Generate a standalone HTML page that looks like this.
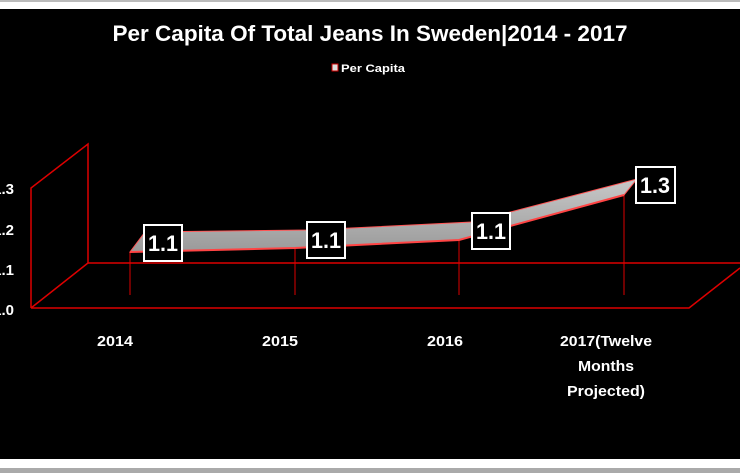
<!DOCTYPE html>
<html><head><meta charset="utf-8"><style>
html,body{margin:0;padding:0;background:#fff;}
body{width:740px;height:473px;overflow:hidden;position:relative;font-family:"Liberation Sans",sans-serif;}
</style></head><body>
<svg width="740" height="473" viewBox="0 0 740 473" style="position:absolute;left:0;top:0">
<defs><linearGradient id="g" x1="0" y1="0" x2="0" y2="1"><stop offset="0" stop-color="#c8c8c8"/><stop offset="1" stop-color="#9a9a9a"/></linearGradient></defs>
<rect x="0" y="0" width="740" height="2" fill="#bbb"/>
<rect x="0" y="9" width="740" height="450" fill="#000"/>
<rect x="0" y="468" width="740" height="5" fill="#aaa"/>
<g font-weight="bold" fill="#fff">
<text x="370" y="41" font-size="22" text-anchor="middle" textLength="515" lengthAdjust="spacingAndGlyphs">Per Capita Of Total Jeans In Sweden|2014 - 2017</text>
<rect x="332" y="64" width="6" height="7" fill="#ddd" stroke="#c00" stroke-width="1"/>
<text x="341" y="72" font-size="11" textLength="64" lengthAdjust="spacingAndGlyphs">Per Capita</text>
<g font-size="15">
<text x="14" y="194" text-anchor="end">1.3</text>
<text x="14" y="235" text-anchor="end">1.2</text>
<text x="14" y="275" text-anchor="end">1.1</text>
<text x="14" y="315" text-anchor="end">1.0</text>
</g>
<g font-size="15" text-anchor="middle">
<text x="115" y="346" textLength="36" lengthAdjust="spacingAndGlyphs">2014</text>
<text x="280" y="346" textLength="36" lengthAdjust="spacingAndGlyphs">2015</text>
<text x="445" y="346" textLength="36" lengthAdjust="spacingAndGlyphs">2016</text>
<text x="606" y="346" textLength="92" lengthAdjust="spacingAndGlyphs">2017(Twelve</text>
<text x="606" y="371" textLength="56" lengthAdjust="spacingAndGlyphs">Months</text>
<text x="606" y="396" textLength="78" lengthAdjust="spacingAndGlyphs">Projected)</text>
</g>
</g>
<g stroke="#d00" stroke-width="1.5" fill="none">
<polyline points="31,308 689,308 740,268"/>
<line x1="88" y1="263" x2="740" y2="263"/>
<polyline points="31,308 88,263 88,144 31,188 31,308"/>
</g>
<g stroke="#d00" stroke-width="1">
<line x1="130" y1="252" x2="130" y2="295"/>
<line x1="295" y1="248" x2="295" y2="295"/>
<line x1="459" y1="240" x2="459" y2="295"/>
<line x1="624" y1="195" x2="624" y2="295"/>
</g>
<polygon points="130,252 295,248 459,240 624,195 637,179 472,222 310,230 145,232" fill="url(#g)" stroke="#f55" stroke-width="1"/>
<polyline points="130,252 295,248 459,240 624,195" fill="none" stroke="#f44" stroke-width="2"/>
<g fill="#000" stroke="#fff" stroke-width="2">
<rect x="144" y="225" width="38" height="36"/>
<rect x="307" y="222" width="38" height="36"/>
<rect x="472" y="213" width="38" height="36"/>
<rect x="636" y="167" width="39" height="36"/>
</g>
<g fill="#fff" font-size="22" font-weight="bold" text-anchor="middle">
<text x="163" y="251" textLength="30" lengthAdjust="spacingAndGlyphs">1.1</text>
<text x="326" y="248" textLength="30" lengthAdjust="spacingAndGlyphs">1.1</text>
<text x="491" y="239" textLength="30" lengthAdjust="spacingAndGlyphs">1.1</text>
<text x="655" y="193" textLength="30" lengthAdjust="spacingAndGlyphs">1.3</text>
</g>
</svg>
</body></html>
